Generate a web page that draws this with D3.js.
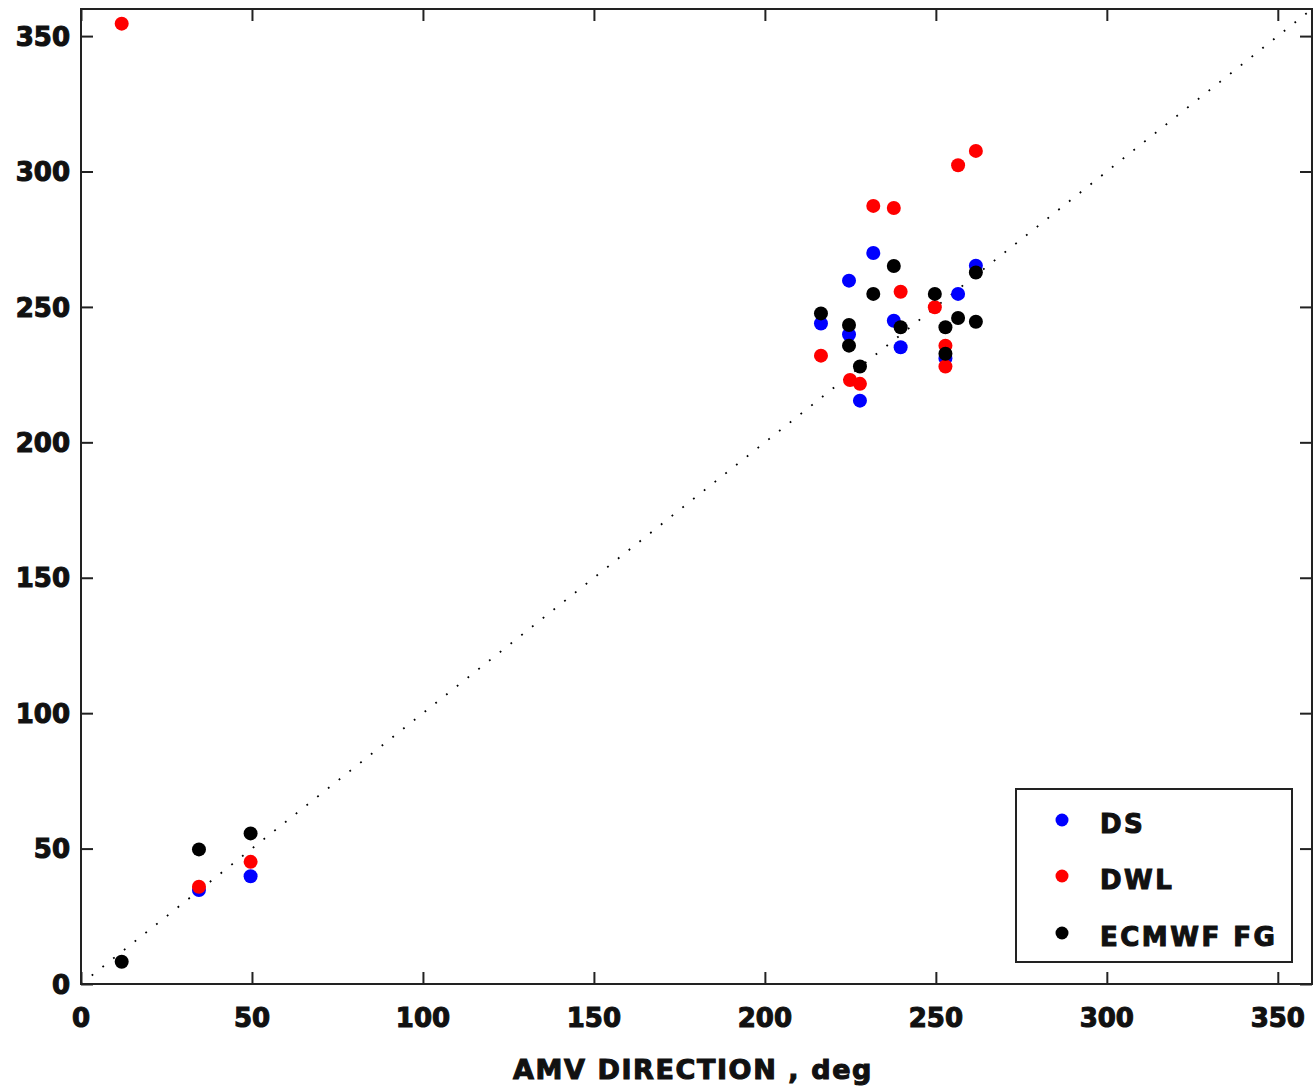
<!DOCTYPE html>
<html>
<head>
<meta charset="utf-8">
<script src="https://cdn.jsdelivr.net/npm/d3@7"></script>
<style>
  html, body { margin: 0; padding: 0; background: #fff; }
  svg text { font-family: "DejaVu Sans", Verdana, sans-serif; font-weight: bold; fill: #111; stroke: #111; stroke-width: 1.1px; }
</style>
</head>
<body>
<svg id="chart" width="1313" height="1090"></svg>
<script>
// AMV direction (x) against reference directions (y), in degrees
const dsX  = [34.5, 49.6, 216.4, 224.6, 224.6, 227.8, 231.7, 237.7, 239.7, 252.8, 256.5, 261.7];
const dsY  = [34.7, 39.8, 243.9, 259.7, 239.8, 215.4, 269.9, 244.9, 235.1, 231.0, 254.8, 265.2];

const dwlX = [11.9, 34.5, 49.6, 216.4, 224.9, 227.8, 231.7, 237.7, 239.7, 249.7, 252.8, 252.8, 256.5, 261.7];
const dwlY = [354.6, 35.9, 45.1, 232.0, 223.0, 221.6, 287.3, 286.5, 255.6, 249.9, 235.7, 228.0, 302.3, 307.6];

const fgX  = [11.9, 34.5, 49.6, 216.4, 224.6, 224.6, 227.8, 231.7, 237.7, 239.7, 249.7, 252.8, 252.8, 256.5, 261.7, 261.7];
const fgY  = [8.2, 49.7, 55.6, 247.6, 243.3, 235.7, 228.0, 254.8, 265.1, 242.5, 254.8, 242.5, 232.7, 245.9, 262.7, 244.5];

const seriesNames = ["DS", "DWL", "ECMWF FG"];
const seriesColors = ["#0000ff", "#ff0000", "#000000"];
const tickValues = [0, 50, 100, 150, 200, 250, 300, 350];
const axisTitle = "AMV DIRECTION , deg";

(function () {
  const svg = d3.select("#chart");
  const pLeft = 81, pRight = 1312, pTop = 9, pBottom = 984;

  const x = d3.scaleLinear().domain([0, 360]).range([pLeft, pRight]);
  const y = d3.scaleLinear().domain([0, 360]).range([pBottom, pTop]);

  // 1:1 reference line, dotted
  svg.append("line")
    .attr("x1", x(0)).attr("y1", y(0))
    .attr("x2", x(360)).attr("y2", y(360))
    .attr("stroke", "#000")
    .attr("stroke-width", 1.8)
    .attr("stroke-dasharray", "1.8,11.9");

  // Axes with inward ticks on all four sides
  const tickLen = 12;
  const g = svg.append("g");

  const axBottom = d3.axisBottom(x).tickValues(tickValues).tickSizeInner(-tickLen).tickSizeOuter(0).tickFormat("");
  const axTop = d3.axisTop(x).tickValues(tickValues).tickSizeInner(-tickLen).tickSizeOuter(0).tickFormat("");
  const axLeft = d3.axisLeft(y).tickValues(tickValues).tickSizeInner(-tickLen).tickSizeOuter(0).tickFormat("");
  const axRight = d3.axisRight(y).tickValues(tickValues).tickSizeInner(-tickLen).tickSizeOuter(0).tickFormat("");

  g.append("g").attr("transform", `translate(0,${pBottom})`).call(axBottom);
  g.append("g").attr("transform", `translate(0,${pTop})`).call(axTop);
  g.append("g").attr("transform", `translate(${pLeft},0)`).call(axLeft);
  g.append("g").attr("transform", `translate(${pRight},0)`).call(axRight);
  g.selectAll(".domain").remove();
  g.selectAll(".tick line").attr("stroke", "#222").attr("stroke-width", 2);

  // Frame
  svg.append("rect")
    .attr("x", pLeft).attr("y", pTop)
    .attr("width", pRight - pLeft).attr("height", pBottom - pTop)
    .attr("fill", "none").attr("stroke", "#222").attr("stroke-width", 2);

  // Tick labels
  svg.append("g").selectAll("text").data(tickValues).join("text")
    .attr("x", d => x(d)).attr("y", 1027)
    .attr("text-anchor", "middle")
    .attr("font-size", 26)
    .text(d => d);

  svg.append("g").selectAll("text").data(tickValues).join("text")
    .attr("x", 70).attr("y", d => y(d))
    .attr("dy", "0.37em")
    .attr("text-anchor", "end")
    .attr("font-size", 26)
    .text(d => d);

  svg.append("text")
    .attr("x", 693).attr("y", 1079)
    .attr("text-anchor", "middle")
    .attr("font-size", 27)
    .attr("letter-spacing", 1.6)
    .text(axisTitle);

  // Scatter points, ECMWF FG drawn last
  const series = [
    { xs: dsX, ys: dsY },
    { xs: dwlX, ys: dwlY },
    { xs: fgX, ys: fgY }
  ];
  series.forEach((s, i) => {
    svg.append("g").selectAll("circle")
      .data(s.xs.map((v, k) => [v, s.ys[k]]))
      .join("circle")
      .attr("cx", d => x(d[0]))
      .attr("cy", d => y(d[1]))
      .attr("r", 7)
      .attr("fill", seriesColors[i]);
  });

  // Legend
  const lg = svg.append("g");
  lg.append("rect")
    .attr("x", 1016).attr("y", 789)
    .attr("width", 276).attr("height", 173)
    .attr("fill", "#fff").attr("stroke", "#222").attr("stroke-width", 2);
  const legendRows = [820, 876, 933];
  seriesNames.forEach((name, i) => {
    lg.append("circle")
      .attr("cx", 1062).attr("cy", legendRows[i])
      .attr("r", 6.5).attr("fill", seriesColors[i]);
    lg.append("text")
      .attr("x", 1100).attr("y", legendRows[i] + 13)
      .attr("font-size", 26)
      .attr("letter-spacing", 2.5)
      .text(name);
  });
})();
</script>
</body>
</html>
